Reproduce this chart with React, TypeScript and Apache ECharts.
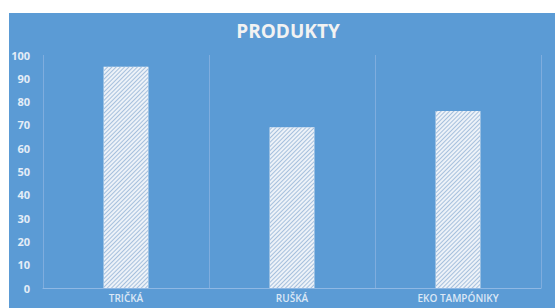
import React, { useEffect, useRef } from "react";
import * as echarts from "echarts";

const categories = ["TRIČKÁ", "RUŠKÁ", "EKO TAMPÓNIKY"];
const values = [95, 69, 76];
const yTicks = { min: 0, max: 100, interval: 10 };
const title = "PRODUKTY";

export default function App() {
  const ref = useRef<HTMLDivElement>(null);
  useEffect(() => {
    if (!ref.current) return;
    const chart = echarts.init(ref.current, undefined, { renderer: "svg" });
    chart.setOption({
      animation: false,
      backgroundColor: "#ffffff",
      graphic: [
        {
          type: "rect",
          z: -10,
          silent: true,
          shape: { x: 9, y: 13, width: 546, height: 295 },
          style: { fill: "#5b9bd5" },
        },
      ],
      title: {
        text: title,
        left: 283,
        textAlign: "center",
        top: 16,
        textStyle: {
          color: "#f2f2f2",
          fontSize: 19,
          fontWeight: "bold",
          fontFamily: "Open Sans",
        },
      },
      grid: { left: 43, right: 14, top: 55, bottom: 20 },
      xAxis: {
        type: "category",
        data: categories,
        axisLine: { lineStyle: { color: "#8fb8e4", width: 1 } },
        axisTick: { show: false },
        splitLine: { show: true, lineStyle: { color: "#7fadde", width: 1 } },
        axisLabel: {
          color: "#dce8f5",
          fontSize: 10,
          fontWeight: 600,
          fontFamily: "Open Sans",
          margin: 5,
        },
      },
      yAxis: {
        type: "value",
        min: yTicks.min,
        max: yTicks.max,
        interval: yTicks.interval,
        axisLine: { show: false },
        axisTick: { show: false },
        splitLine: { show: false },
        axisLabel: {
          color: "#e4edf7",
          fontSize: 11,
          fontWeight: "bold",
          fontFamily: "Open Sans",
          margin: 13,
        },
      },
      series: [
        {
          type: "bar",
          data: values,
          barWidth: "27%",
          itemStyle: {
            color: "#edf2f8",
            decal: {
              symbol: "rect",
              color: "#a6c0dd",
              dashArrayX: [1, 0],
              dashArrayY: [1, 2],
              rotation: -Math.PI / 4,
            },
          },
        },
      ],
    });
    return () => chart.dispose();
  }, []);
  return (
    <div
      ref={ref}
      style={{ position: "fixed", left: 0, top: 0, width: 555, height: 308 }}
    />
  );
}
